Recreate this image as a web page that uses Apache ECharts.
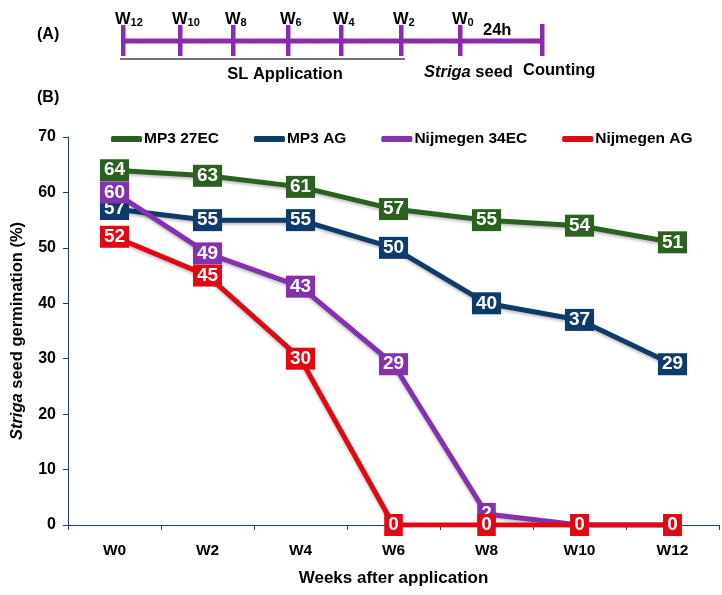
<!DOCTYPE html>
<html>
<head>
<meta charset="utf-8">
<script src="https://cdn.jsdelivr.net/npm/echarts@6/dist/echarts.min.js"></script>
<style>html,body{margin:0;padding:0;background:#fff}#c{width:722px;height:595px}</style>
</head>
<body>
<div id="c"></div>
<script>
const categories = ['W0','W2','W4','W6','W8','W10','W12'];
const mp3_27EC = [64, 63, 61, 57, 55, 54, 51];
const mp3_AG = [57, 55, 55, 50, 40, 37, 29];
const nij_34EC = [60, 49, 43, 29, 2, 0, 0];
const nij_AG = [52, 45, 30, 0, 0, 0, 0];
const seriesNames = ['MP3 27EC','MP3 AG','Nijmegen 34EC','Nijmegen AG'];
const yTicks = [0,10,20,30,40,50,60,70];
const timelineWeeks = ['12','10','8','6','4','2','0'];

const colors = ['#2b6120','#0f3b6b','#8431ad','#e30613'];
const FONT = 'Liberation Sans, Arial, sans-serif';
const purple = '#8a2cb0';

function mkSeries(name, data, color, z) {
  return {
    name: name, type: 'line', data: data, z: z,
    symbol: 'rect', symbolSize: 1,
    itemStyle: { color: color },
    lineStyle: { color: color, width: 5, shadowColor: 'rgba(0,0,0,0.25)', shadowBlur: 3, shadowOffsetY: 2 },
    label: {
      show: true, position: 'inside', color: '#fff', fontWeight: 'bold',
      fontSize: 19, fontFamily: FONT, backgroundColor: color,
      padding: [2, 4, 1, 4], lineHeight: 19
    },
    emphasis: { disabled: true },
    animation: false
  };
}

// Timeline diagram (panel A)
const tlX = [123,180,233,288,341,401,460];
const tlEnd = 542;
const graphic = [];
graphic.push({ type: 'line', shape: { x1: 123, y1: 41, x2: tlEnd, y2: 41 }, style: { stroke: purple, lineWidth: 5 } });
tlX.forEach((x, i) => {
  graphic.push({ type: 'rect', shape: { x: x - 2, y: 25, width: 4.5, height: 31 }, style: { fill: purple } });
  graphic.push({ type: 'text', x: x - 8, y: 19, style: {
    text: '{w|W}{s|' + timelineWeeks[i] + '}', align: 'left', verticalAlign: 'middle',
    rich: { w: { fontSize: 16.5, fontWeight: 'bold', fontFamily: FONT, fill: '#000' },
            s: { fontSize: 11, fontWeight: 'bold', fontFamily: FONT, fill: '#000', padding: [8,0,0,0] } }
  }});
});
graphic.push({ type: 'rect', shape: { x: tlEnd - 2, y: 24, width: 4.5, height: 32 }, style: { fill: purple } });
graphic.push({ type: 'line', shape: { x1: 120, y1: 59, x2: 405, y2: 59 }, style: { stroke: '#444', lineWidth: 1.5 } });
const txt = (t, x, y, align, size) => ({ type: 'text', x: x, y: y, style: {
  text: t, align: align, verticalAlign: 'middle', fontSize: size || 16.5, fontWeight: 'bold', fontFamily: FONT, fill: '#000' } });
graphic.push(txt('(A)', 37, 35, 'left', 16));
graphic.push(txt('(B)', 37, 98, 'left', 16));
graphic.push(txt('24h', 483, 30, 'left'));
graphic.push(txt('SL Application', 285, 74, 'center'));
graphic.push(txt('Counting', 523, 70, 'left'));
graphic.push({ type: 'text', x: 424, y: 72, style: {
  text: '{i|Striga} seed', align: 'left', verticalAlign: 'middle',
  rich: { i: { fontSize: 16.5, fontWeight: 'bold', fontStyle: 'italic', fontFamily: FONT, fill: '#000' } },
  fontSize: 16.5, fontWeight: 'bold', fontFamily: FONT, fill: '#000' } });

const chart = echarts.init(document.getElementById('c'), null, { renderer: 'canvas' });
chart.setOption({
  animation: false,
  backgroundColor: '#fff',
  graphic: graphic,
  legend: {
    data: seriesNames, left: 111, top: 131, padding: 0, itemWidth: 31, itemHeight: 6, itemGap: 35,
    icon: 'roundRect',
    textStyle: { fontSize: 15.5, fontWeight: 'bold', fontFamily: FONT, color: '#000', padding: [0,0,0,-3] }
  },
  grid: { left: 68, right: 3, top: 137, bottom: 70 },
  xAxis: {
    type: 'category', data: categories, boundaryGap: true,
    axisLine: { lineStyle: { color: '#1f3f73', width: 1 } },
    axisTick: { show: true, length: 5, lineStyle: { color: '#1f3f73' } },
    axisLabel: { fontSize: 15.5, fontWeight: 'bold', fontFamily: FONT, color: '#000', margin: 18 },
    name: 'Weeks after application', nameLocation: 'middle', nameGap: 45,
    nameTextStyle: { fontSize: 17, fontWeight: 'bold', fontFamily: FONT, color: '#000' }
  },
  yAxis: {
    type: 'value', min: yTicks[0], max: yTicks[yTicks.length-1], interval: 10,
    splitLine: { show: false },
    axisLine: { show: true, lineStyle: { color: '#1f3f73', width: 1 } },
    axisTick: { show: true, length: 5, lineStyle: { color: '#1f3f73' } },
    axisLabel: { fontSize: 16, fontWeight: 'bold', fontFamily: FONT, color: '#000', margin: 12 },
    name: '{i|Striga} seed germination (%)', nameLocation: 'middle', nameGap: 42, nameRotate: 90,
    nameTextStyle: { fontSize: 16.5, fontWeight: 'bold', fontFamily: FONT, color: '#000',
      rich: { i: { fontSize: 16.5, fontWeight: 'bold', fontStyle: 'italic', fontFamily: FONT, color: '#000' } } }
  },
  series: [
    mkSeries(seriesNames[0], mp3_27EC, colors[0], 2),
    mkSeries(seriesNames[1], mp3_AG, colors[1], 3),
    mkSeries(seriesNames[2], nij_34EC, colors[2], 4),
    mkSeries(seriesNames[3], nij_AG, colors[3], 5)
  ]
});
</script>
</body>
</html>
